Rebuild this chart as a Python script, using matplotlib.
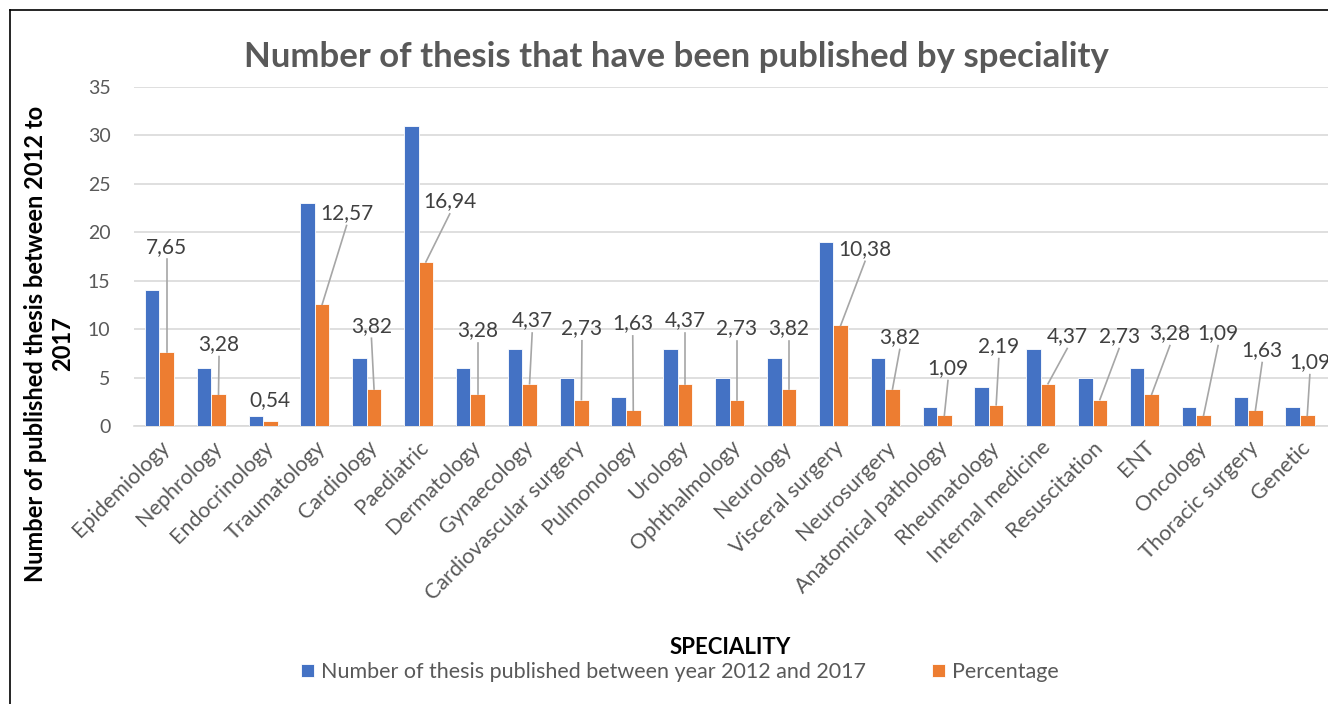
import matplotlib
matplotlib.use("Agg")
import matplotlib.pyplot as plt
from matplotlib.lines import Line2D
import numpy as np

plt.rcParams['font.family'] = ['Lato', 'DejaVu Sans']

categories = ["Epidemiology", "Nephrology", "Endocrinology", "Traumatology", "Cardiology",
              "Paediatric", "Dermatology", "Gynaecology", "Cardiovascular surgery", "Pulmonology",
              "Urology", "Ophthalmology", "Neurology", "Visceral surgery", "Neurosurgery",
              "Anatomical pathology", "Rheumatology", "Internal medicine", "Resuscitation",
              "ENT", "Oncology", "Thoracic surgery", "Genetic"]
counts = [14, 6, 1, 23, 7, 31, 6, 8, 5, 3, 8, 5, 7, 19, 7, 2, 4, 8, 5, 6, 2, 3, 2]
percentages = [7.65, 3.28, 0.54, 12.57, 3.82, 16.94, 3.28, 4.37, 2.73, 1.63, 4.37, 2.73,
               3.82, 10.38, 3.82, 1.09, 2.19, 4.37, 2.73, 3.28, 1.09, 1.63, 1.09]
pct_labels = [f"{v:.2f}".replace(".", ",") for v in percentages]

# layout: data-label positions (category units, y units)
label_x = [0.14, 1.15, 2.13, 3.61, 4.09, 5.60, 6.14, 7.19, 8.15, 9.13, 10.14, 11.14,
           12.14, 13.61, 14.28, 15.21, 16.19, 17.51, 18.51, 19.49, 20.42, 21.27, 22.19]
label_y = [18.5, 8.47, 2.68, 22.0, 10.36, 23.2, 9.9, 10.9, 10.1, 10.6, 10.9, 10.1,
           10.1, 18.3, 9.2, 6.0, 8.26, 9.3, 9.3, 9.6, 9.6, 7.85, 6.6]

BLUE = "#4472C4"
ORANGE = "#ED7D31"
GREY = "#595959"

fig = plt.figure(figsize=(13.28, 7.04), dpi=100)
ax = fig.add_axes([134/1328, 278/704, 1194/1328, 339/704])

x = np.arange(len(categories))
w = 0.28
ax.bar(x - w/2, counts, w, color=BLUE, edgecolor="white", linewidth=0.6, zorder=3,
       label="Number of thesis published between year 2012 and 2017")
ax.bar(x + w/2, percentages, w, color=ORANGE, edgecolor="white", linewidth=0.6, zorder=3,
       label="Percentage")

ax.set_ylim(0, 35)
ax.set_xlim(-0.49, 22.54)
ax.set_yticks(range(0, 36, 5))
ax.yaxis.grid(True, color="#D9D9D9", linewidth=1.2, zorder=0)
ax.set_axisbelow(True)
for s in ["top", "right", "left"]:
    ax.spines[s].set_visible(False)
ax.spines["bottom"].set_color("#D9D9D9")
ax.spines["bottom"].set_linewidth(1.2)
ax.tick_params(axis="y", length=0, labelsize=14, labelcolor=GREY, pad=17)
ax.tick_params(axis="x", length=0, labelsize=15.5, labelcolor=GREY, pad=8)
ax.set_xticks(x)
ax.set_xticklabels(categories, rotation=45, ha="right", rotation_mode="anchor")

for i, (lx, ly, v, t) in enumerate(zip(label_x, label_y, percentages, pct_labels)):
    ax.text(lx, ly, t, ha="center", va="center", fontsize=15, color="#404040", zorder=5)
    start = ly - 1.3
    if start - v > 1.0:
        ax.add_line(Line2D([lx, i + w/2], [start, v], color="#A6A6A6", linewidth=1.2, zorder=4))

fig.text(676/1328, 1 - 57/704, "Number of thesis that have been published by speciality",
         ha="center", va="center", fontsize=25, fontweight="bold", color=GREY)
fig.text(49/1328, 1 - 344/704, "Number of published thesis between 2012 to\n2017",
         rotation=90, ha="center", va="center", fontsize=17, fontweight="bold", color="black",
         linespacing=1.2, multialignment="center")
fig.text(730/1328, 1 - 647/704, "SPECIALITY", ha="center", va="center", fontsize=16,
         fontweight="bold", color="black")

leg = fig.legend(loc="center", bbox_to_anchor=(680/1328, 1 - 672/704), ncol=2, frameon=False,
                 fontsize=15.5, handlelength=0.6, handleheight=0.6, handletextpad=0.3,
                 columnspacing=3.1)
for t in leg.get_texts():
    t.set_color(GREY)

fig.add_artist(Line2D([10/1328, 10/1328], [0, 1 - 10/704], transform=fig.transFigure,
                      color="black", linewidth=1.2))
fig.add_artist(Line2D([10/1328, 1], [1 - 10/704, 1 - 10/704], transform=fig.transFigure,
                      color="black", linewidth=1.2))

fig.savefig("out.png", dpi=100)
